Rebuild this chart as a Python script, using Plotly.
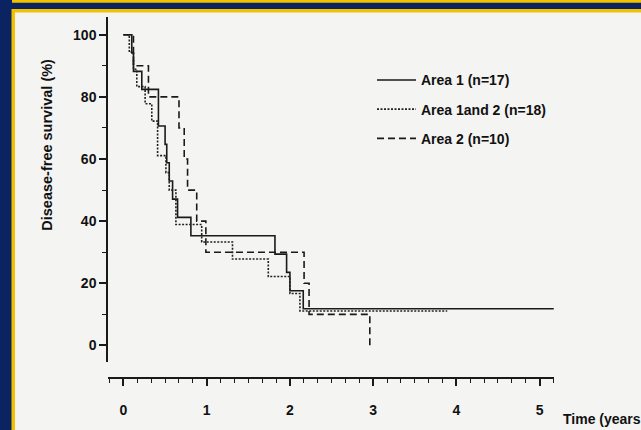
import plotly.graph_objects as go

# ---- data ----
area1_t = [0, 0.10, 0.12, 0.22, 0.42, 0.50, 0.52, 0.55, 0.59, 0.65, 0.81, 1.82, 1.96, 2.00, 2.16, 5.17]
area1_s = [100, 94.1, 88.2, 82.4, 70.6, 64.7, 58.8, 52.9, 47.1, 41.2, 35.3, 29.4, 23.5, 17.6, 11.8, 11.8]

area12_t = [0, 0.07, 0.12, 0.16, 0.26, 0.34, 0.41, 0.51, 0.55, 0.63, 0.94, 1.31, 1.74, 2.00, 2.12, 3.89]
area12_s = [100, 94.4, 88.9, 83.3, 77.8, 72.2, 61.1, 55.6, 50.0, 38.9, 33.3, 27.8, 22.2, 16.7, 11.1, 11.1]

area2_t = [0, 0.12, 0.30, 0.667, 0.73, 0.77, 0.88, 0.99, 2.17, 2.23, 2.96]
area2_s = [100, 90, 80, 70, 60, 50, 40, 30, 20, 10, 0]

names = ["Area 1 (n=17)", "Area 1and 2 (n=18)", "Area 2 (n=10)"]
x_ticks = [0, 1, 2, 3, 4, 5]
y_ticks = [0, 20, 40, 60, 80, 100]

# ---- layout geometry (pixels) ----
W, H = 641, 430
L, R, T, B = 108, 87, 17, 47
PW, PH = W - L - R, H - T - B

def px(x):
    return (x - L) / PW

def py(y):
    return (H - B - y) / PH

INK = "#1a1a1a"
FONT = "Liberation Sans"

fig = go.Figure()
fig.add_trace(go.Scatter(x=area1_t, y=area1_s, mode="lines", line_shape="hv",
                         line=dict(color=INK, width=1.6), name=names[0], legendgroup="a"))
fig.add_trace(go.Scatter(x=area12_t, y=area12_s, mode="lines", line_shape="hv",
                         line=dict(color="#222222", width=1.6, dash="2px,1.5px"),
                         name=names[1], legendgroup="b"))
fig.add_trace(go.Scatter(x=area2_t, y=area2_s, mode="lines", line_shape="hv",
                         line=dict(color=INK, width=1.6, dash="7px,4px"),
                         name=names[2], legendgroup="c"))

shapes = [
    # yellow top strip (previous panel edge)
    dict(type="rect", xref="paper", yref="paper", x0=px(12), x1=px(660), y0=py(2.5), y1=py(-10),
         fillcolor="#f2c200", line_width=0, layer="below"),
    # yellow frame
    dict(type="rect", xref="paper", yref="paper", x0=px(11.5), x1=px(660), y0=py(450), y1=py(9),
         fillcolor="#f2c200", line_width=0, layer="below"),
    # light panel
    dict(type="rect", xref="paper", yref="paper", x0=px(15), x1=px(660), y0=py(450), y1=py(12.5),
         fillcolor="#f4f4f3", line_width=0, layer="below"),
]

fig.update_layout(
    width=W, height=H,
    margin=dict(l=L, r=R, t=T, b=B, pad=0),
    paper_bgcolor="#0b2461",
    plot_bgcolor="rgba(0,0,0,0)",
    font=dict(family=FONT, size=14, color="#111111"),
    shapes=shapes,
    showlegend=True,
    legend=dict(x=px(372), y=py(65), xanchor="left", yanchor="top", itemwidth=39,
                bgcolor="rgba(0,0,0,0)", traceorder="grouped", tracegroupgap=8,
                font=dict(family=FONT, size=14, color="#111111", weight="bold")),
    xaxis=dict(range=[-0.186, 5.173], anchor="free", position=0,
               showline=True, linecolor=INK, linewidth=1.5, showgrid=False, zeroline=False,
               tickmode="array", tickvals=x_ticks, ticktext=[str(v) for v in x_ticks],
               ticks="outside", ticklen=7, tickwidth=1.5, tickcolor=INK,
               ticklabelstandoff=12,
               tickfont=dict(family=FONT, size=14, color="#111111", weight="bold"),
               minor=dict(ticks="outside", tick0=0, dtick=1/6, ticklen=4, tickwidth=1.2, tickcolor=INK)),
    yaxis=dict(range=[-5.4, 105.7], domain=[py(367), 1], anchor="x",
               showline=True, linecolor=INK, linewidth=1.5, showgrid=False, zeroline=False,
               tickmode="array", tickvals=y_ticks, ticktext=[str(v) for v in y_ticks],
               ticks="outside", ticklen=7, tickwidth=1.5, tickcolor=INK,
               tickfont=dict(family=FONT, size=14, color="#111111", weight="bold"),
               minor=dict(ticks="outside", tick0=0, dtick=10, ticklen=4, tickwidth=1.2, tickcolor=INK)),
    annotations=[
        dict(text="Disease-free survival (%)", xref="paper", yref="paper",
             x=px(47.5), y=py(147), xanchor="center", yanchor="middle", textangle=-90,
             showarrow=False, font=dict(family=FONT, size=14.5, color="#111111", weight="bold")),
        dict(text="Time (years", xref="paper", yref="paper",
             x=px(561), y=py(425), xanchor="left", yanchor="middle",
             showarrow=False, font=dict(family=FONT, size=14, color="#111111", weight="bold")),
    ],
)

fig.write_html("out.html",
               config={"displayModeBar": False},
               post_script="document.body.style.margin='0';document.body.style.padding='0';"
                           "document.body.style.background='#0b2461';")
